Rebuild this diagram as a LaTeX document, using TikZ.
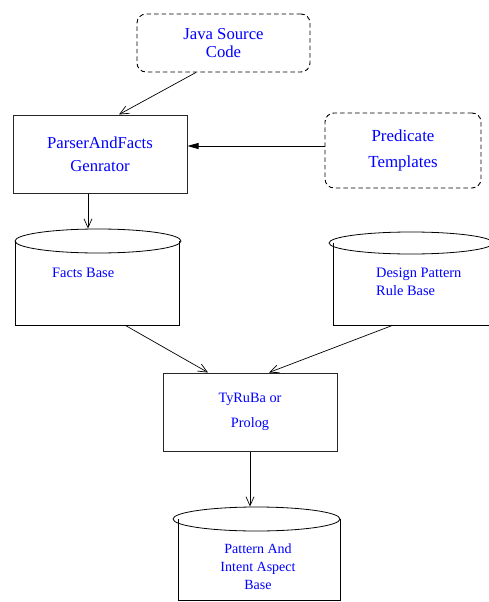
\documentclass[tikz,border=0pt]{standalone}
\usepackage{fontspec}
\setmainfont{Liberation Serif}
\usetikzlibrary{arrows.meta,positioning,calc,shapes.geometric}
\definecolor{Ink}{HTML}{000000}
\definecolor{Label}{HTML}{0000FF}
\newcommand{\fsz}[2]{\fontsize{#1}{#2}\selectfont}
\tikzset{
  src/.style={draw=Ink,dash pattern=on 4.5pt off 3pt,rounded corners=9pt,line width=0.9pt,align=center,inner sep=0pt,text=Label},
  proc/.style={draw=Ink!85,line width=1pt,align=center,inner sep=0pt,text=Label},
  lid/.style={draw=Ink,ellipse,line width=0.8pt,inner sep=0pt},
  drum/.style={inner sep=0pt},
  dbtxt/.style={text=Label,inner sep=0pt},
  arr/.style={-{Straight Barb[length=9pt,width=8pt]},line width=0.7pt,draw=Ink},
  arrf/.style={-{Triangle[length=11pt,width=6pt]},line width=0.7pt,draw=Ink},
}

\begin{document}
\begin{tikzpicture}[x=1pt,y=-1pt]
\useasboundingbox (0,0) rectangle (488,602);
% inputs and generator
\node[src,minimum width=173,minimum height=58,font=\fsz{16.7}{18}] (java) at (223.5,43) {Java Source\\Code};
\node[proc,minimum width=174,minimum height=78,font=\fsz{16.7}{23}] (parser) at (100,154) {ParserAndFacts\\Genrator};
\node[src,minimum width=156,minimum height=75,font=\fsz{16.9}{26}] (pred) at (403,150.5) {Predicate\\Templates};
\draw[arr] ([xshift=-27.5]java.south) -- ([xshift=19]parser.north);
\draw[arrf] ([yshift=4.5]pred.west) -- ([yshift=4.5]pred.west -| parser.east);
% facts base
\node[drum,minimum width=163,minimum height=84] (factsbody) at (97.5,283) {};
\draw[line width=0.8pt] (factsbody.north west) -- (factsbody.south west) -- (factsbody.south east) -- (factsbody.north east);
\node[lid,minimum width=166,minimum height=24] (facts) at (98,241) {};
\node[dbtxt,anchor=base west,font=\fsz{14.4}{18}] (factslbl) at (52,277) {Facts Base};
\draw[arr] ([xshift=-12]parser.south) -- ([xshift=-12]parser.south |- facts.north);
% rule base
\node[drum,minimum width=156,minimum height=82] (designbody) at (412,284) {};
\draw[line width=0.8pt] (designbody.north west) -- (designbody.south west) -- (designbody.south east) -- (designbody.north east);
\node[lid,minimum width=164,minimum height=22] (design) at (411,243) {};
\node[dbtxt,anchor=base west,align=left,font=\fsz{14.4}{18}] (designlbl) at (376,295) {Design Pattern\\Rule Base};
% engine
\node[proc,minimum width=174,minimum height=78,font=\fsz{14.3}{25}] (engine) at (250,412) {TyRuBa or\\Prolog};
\draw[arr] ([xshift=27.5]factsbody.south) -- ([xshift=-42]engine.north);
\draw[arr] ([xshift=-19]designbody.south) -- ([xshift=19]engine.north);
% result base
\node[drum,minimum width=161,minimum height=81] (patternbody) at (259.5,559.5) {};
\draw[line width=0.8pt] (patternbody.north west) -- (patternbody.south west) -- (patternbody.south east) -- (patternbody.north east);
\node[lid,minimum width=167,minimum height=24] (pattern) at (256.5,519) {};
\node[dbtxt,anchor=base,align=center,font=\fsz{14}{18}] (patternlbl) at (258,589) {Pattern And\\Intent Aspect\\Base};
\draw[arr] (engine.south) -- (engine.south |- pattern.north);
\end{tikzpicture}
\end{document}
